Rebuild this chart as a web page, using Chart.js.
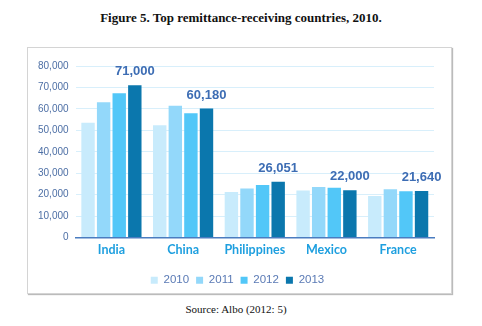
<!DOCTYPE html>
<html>
<head>
<meta charset="utf-8">
<script src="https://cdn.jsdelivr.net/npm/chart.js@4"></script>
<style>
  html,body{margin:0;padding:0;background:#fff;width:482px;height:326px;overflow:hidden;}
  #title{position:absolute;left:0;top:10px;width:482px;text-align:center;font-family:"Liberation Serif","Times New Roman",serif;font-weight:bold;font-size:13px;color:#111;}
  #frame{position:absolute;left:27px;top:47px;width:423px;height:245px;border:1px solid #d4d4d4;box-shadow:1px 1px 1px #bbb;background:#fff;}
  #wrap{position:absolute;left:0;top:0;width:423px;height:245px;}
  #source{position:absolute;left:0;top:303px;width:472px;text-align:center;font-family:"Liberation Serif","Times New Roman",serif;font-size:11px;color:#111;}
</style>
</head>
<body>
<div id="title">Figure 5. Top remittance-receiving countries, 2010.</div>
<div id="frame"><div id="wrap"><canvas id="c"></canvas></div></div>
<div id="source">Source: Albo (2012: 5)</div>
<script>
const categories = ["India", "China", "Philippines", "Mexico", "France"];
const years = ["2010", "2011", "2012", "2013"];
const values2010 = [53500, 52400, 21200, 21900, 19400];
const values2011 = [63100, 61400, 22800, 23500, 22500];
const values2012 = [67300, 58000, 24500, 23200, 21600];
const values2013 = [71000, 60180, 26051, 22000, 21640];
const labels2013 = ["71,000", "60,180", "26,051", "22,000", "21,640"];
const yTicks = [0, 10000, 20000, 30000, 40000, 50000, 60000, 70000, 80000];
const colors = ["#c8ebfc", "#93d8fa", "#52c7f8", "#0b77ad"];

const series = [values2010, values2011, values2012, values2013];

const topLabels = {
  id: "topLabels",
  afterLayout(chart) {
    chart.legend.left += 5;
    chart.legend.right += 5;
  },
  afterDatasetsDraw(chart) {
    const ctx = chart.ctx;
    const meta = chart.getDatasetMeta(3);
    ctx.save();
    ctx.font = "bold 13px Arial, 'Liberation Sans', sans-serif";
    ctx.fillStyle = "#3d6db4";
    ctx.textAlign = "center";
    ctx.textBaseline = "bottom";
    meta.data.forEach((bar, i) => {
      ctx.fillText(labels2013[i], bar.x, bar.y - 7);
    });
    ctx.restore();
  }
};

new Chart(document.getElementById("c"), {
  type: "bar",
  data: {
    labels: categories,
    datasets: years.map((y, i) => ({
      label: y,
      data: series[i],
      backgroundColor: colors[i],
      categoryPercentage: 0.87,
      barPercentage: 0.86
    }))
  },
  options: {
    responsive: true,
    maintainAspectRatio: false,
    animation: false,
    layout: { padding: { top: 18, right: 17, left: 3, bottom: -3 } },
    plugins: {
      tooltip: { enabled: false },
      legend: {
        position: "bottom",
        labels: {
          boxWidth: 7,
          boxHeight: 7,
          padding: 7,
          color: "#5a7ab5",
          font: { family: "Arial, 'Liberation Sans', sans-serif", size: 11.5 }
        }
      }
    },
    scales: {
      x: {
        grid: { display: false, drawTicks: false },
        border: { color: "#4a7cc0", width: 1.5 },
        afterFit(scale) { scale.height = 30; },
        ticks: {
          color: "#1e9fdf",
          padding: 5,
          font: { family: "Lato, 'Open Sans', sans-serif", size: 12.5, weight: "bold" }
        }
      },
      y: {
        min: 0,
        max: 80000,
        afterBuildTicks(axis) { axis.ticks = yTicks.map(v => ({ value: v })); },
        grid: { color: "#d8effb", drawTicks: false },
        border: { display: false },
        ticks: {
          color: "#4d6fa5",
          padding: 7,
          font: { family: "Arial, 'Liberation Sans', sans-serif", size: 10 },
          callback: v => v.toLocaleString("en-US")
        }
      }
    }
  },
  plugins: [topLabels]
});
</script>
</body>
</html>
